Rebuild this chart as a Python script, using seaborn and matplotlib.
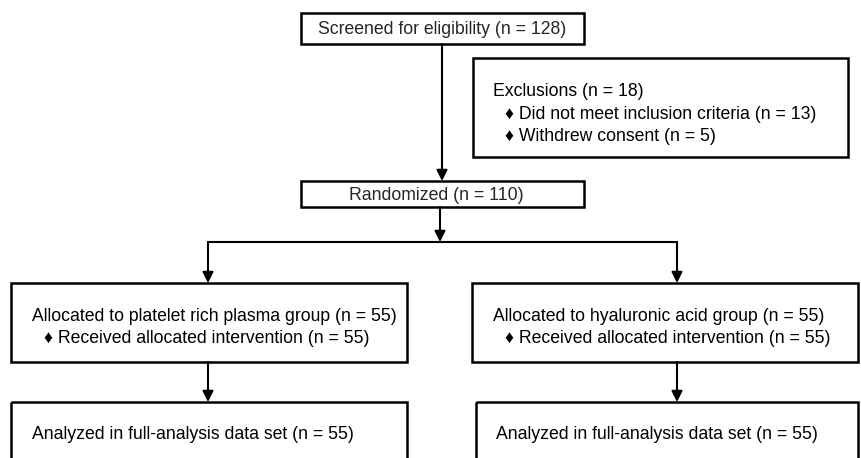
import matplotlib
matplotlib.use("Agg")
import matplotlib.pyplot as plt
from matplotlib.patches import Rectangle
import seaborn as sns

# node texts
screened = ["Screened for eligibility (n = 128)"]
exclusions = ["Exclusions (n = 18)",
              "\u2666 Did not meet inclusion criteria (n = 13)",
              "\u2666 Withdrew consent (n = 5)"]
randomized = ["Randomized (n = 110)"]
alloc_prp = ["Allocated to platelet rich plasma group (n = 55)",
             "\u2666 Received allocated intervention (n = 55)"]
alloc_ha = ["Allocated to hyaluronic acid group (n = 55)",
            "\u2666 Received allocated intervention (n = 55)"]
analyzed_prp = ["Analyzed in full-analysis data set (n = 55)"]
analyzed_ha = ["Analyzed in full-analysis data set (n = 55)"]

sns.set_style("white")
plt.rcParams['font.family'] = ['Liberation Sans', 'DejaVu Sans']

fig = plt.figure(figsize=(8.61, 4.58), dpi=100)
ax = fig.add_axes([0, 0, 1, 1])
ax.set_xlim(0, 861)
ax.set_ylim(458, 0)
ax.axis("off")

FS = 12.7
DY = 1.5  # nudge text down a bit


def box(x0, y0, x1, y1):
    ax.add_patch(Rectangle((x0, y0), x1 - x0, y1 - y0, fill=False,
                           edgecolor="black", lw=1.8))


def lines(x, ys, texts, indent=12):
    for y, t in zip(ys, texts):
        xi = x + (indent if t.startswith("\u2666") else 0)
        ax.text(xi, y + DY, t, fontsize=FS, va="center", ha="left", color="black")


def arrow(x, y0, y1):
    ax.annotate("", xy=(x, y1), xytext=(x, y0),
                arrowprops=dict(arrowstyle="-|>", color="black", lw=1.5,
                                mutation_scale=16, shrinkA=0, shrinkB=0))


# boxes
box(301, 13, 584, 44)
ax.text(442, 28 + DY, screened[0], fontsize=FS, ha="center", va="center")

box(473, 58, 848, 157)
lines(493, [90, 113, 135], exclusions)

box(301, 181, 584, 207)
ax.text(436, 194 + DY, randomized[0], fontsize=FS, ha="center", va="center")

box(11, 283, 407, 362)
lines(32, [315, 337], alloc_prp)
box(472, 283, 858, 362)
lines(493, [315, 337], alloc_ha)

box(11, 402, 407, 470)
lines(32, [433], analyzed_prp)
box(476, 402, 858, 470)
lines(496, [433], analyzed_ha)

# connectors
arrow(442, 44, 181)
arrow(440, 207, 242)
ax.plot([208, 677], [242, 242], color="black", lw=1.5)
arrow(208, 242, 283)
arrow(677, 242, 283)
arrow(208, 362, 402)
arrow(677, 362, 402)

fig.savefig("out.png", dpi=100)
